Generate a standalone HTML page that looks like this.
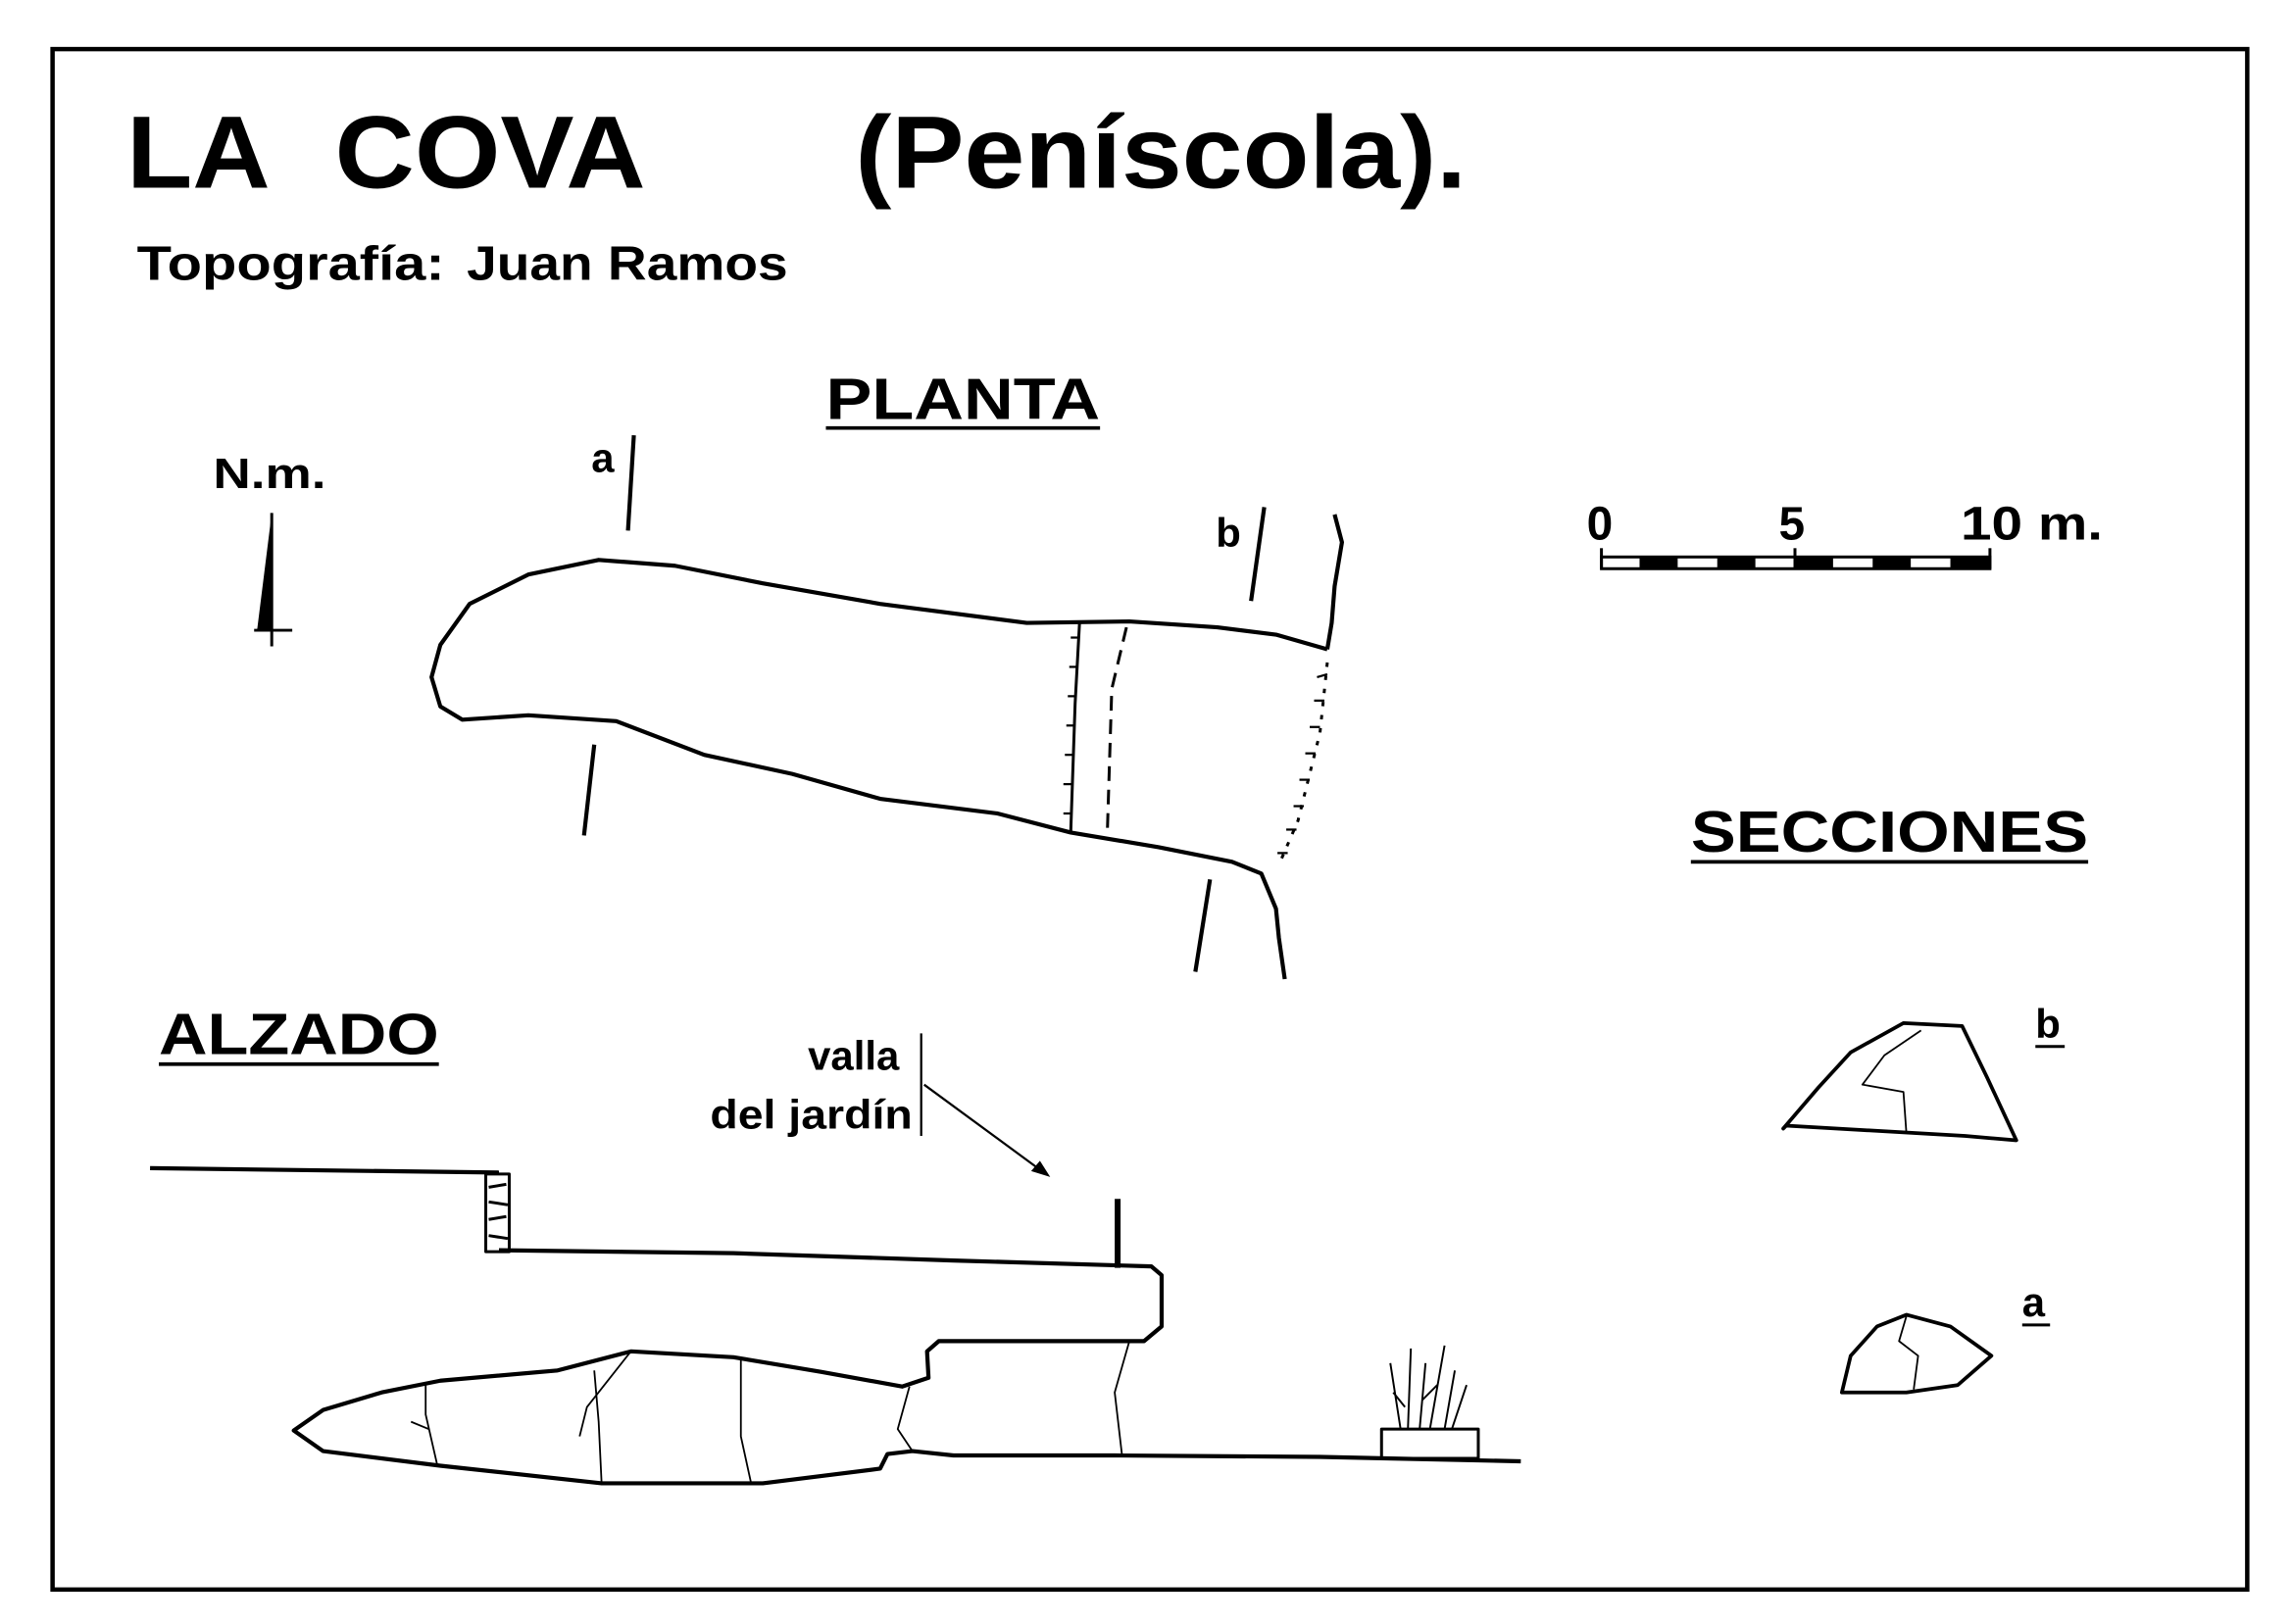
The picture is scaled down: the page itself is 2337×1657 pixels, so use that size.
<!DOCTYPE html>
<html><head><meta charset="utf-8"><style>
html,body{margin:0;padding:0;background:#fff}
svg{display:block}
text{font-family:"Liberation Sans",sans-serif;font-weight:bold;fill:#000}
</style></head><body>
<svg width="2337" height="1657" viewBox="0 0 1562 1108" xmlns="http://www.w3.org/2000/svg">
<rect x="0" y="0" width="1562" height="1108" fill="#fff"/>
<rect x="35.5" y="33.5" width="1497" height="1051" fill="none" stroke="#000" stroke-width="3"/>
<text x="86" y="128" font-size="70" textLength="98" lengthAdjust="spacingAndGlyphs">LA</text>
<text x="228" y="128" font-size="70" textLength="212" lengthAdjust="spacingAndGlyphs">COVA</text>
<text x="583" y="128" font-size="70" textLength="417" lengthAdjust="spacingAndGlyphs">(Peníscola).</text>
<text x="93" y="191" font-size="33" textLength="210" lengthAdjust="spacingAndGlyphs">Topografía:</text>
<text x="318" y="191" font-size="33" textLength="219" lengthAdjust="spacingAndGlyphs">Juan Ramos</text>
<text x="563" y="286" font-size="40" textLength="187" lengthAdjust="spacingAndGlyphs">PLANTA</text>
<line x1="563" y1="292" x2="750" y2="292" stroke="#000" stroke-width="2.5"/>
<text x="145" y="333" font-size="29" textLength="77" lengthAdjust="spacingAndGlyphs">N.m.</text>
<polygon points="185,350 175,430 185,430" fill="#000"/>
<line x1="185" y1="350" x2="185" y2="441" stroke="#000" stroke-width="2"/>
<line x1="173" y1="430" x2="199" y2="430" stroke="#000" stroke-width="2"/>
<text x="1082" y="368" font-size="32">0</text>
<text x="1213" y="368" font-size="32">5</text>
<text x="1337" y="368" font-size="32" textLength="97" lengthAdjust="spacingAndGlyphs">10 m.</text>
<rect x="1092" y="380" width="265" height="8" fill="#fff" stroke="#000" stroke-width="2"/>
<g fill="#000"><rect x="1118" y="380" width="26" height="8"/><rect x="1171" y="380" width="26" height="8"/><rect x="1224" y="380" width="26" height="8"/><rect x="1277" y="380" width="26" height="8"/><rect x="1330" y="380" width="27" height="8"/></g>
<line x1="1092" y1="374" x2="1092" y2="388" stroke="#000" stroke-width="2"/>
<line x1="1224" y1="374" x2="1224" y2="388" stroke="#000" stroke-width="2"/>
<line x1="1357" y1="374" x2="1357" y2="388" stroke="#000" stroke-width="2"/>
<g fill="none" stroke="#000" stroke-width="2.8" stroke-linejoin="round">
<path d="M905,443 L870,433 L830,428 L770,424 L700,425 L600,412 L520,398 L460,386 L408,382 L360,392 L320,412 L300,440 L294,462 L300,482 L315,491 L360,488 L420,492 L480,515 L540,528 L600,545 L680,555 L730,568 L790,578 L840,588 L860,596 L870,620 L872,640 L876,668"/>
<path d="M910,351 L915,370 L910,400 L908,425 L905,443"/>
<line x1="432" y1="297" x2="428" y2="362"/>
<line x1="405" y1="508" x2="398" y2="570"/>
<line x1="862" y1="346" x2="853" y2="410"/>
<line x1="825" y1="600" x2="815" y2="663"/>
<path d="M736,425 L733,480 L730,568" stroke-width="2"/>
<path d="M768,428 L758,470 L755,567" stroke-dasharray="10,6" stroke-width="2"/>
<path d="M905,452 L900,500 L885,560 L872,590" stroke-dasharray="3,6" stroke-width="2"/>
</g>
<g stroke="#000" stroke-width="1.5">
<line x1="736" y1="435" x2="730" y2="435"/><line x1="735" y1="455" x2="729" y2="455"/><line x1="734" y1="475" x2="728" y2="475"/><line x1="733" y1="495" x2="727" y2="495"/><line x1="732" y1="515" x2="726" y2="515"/><line x1="731" y1="535" x2="725" y2="535"/><line x1="731" y1="555" x2="725" y2="555"/>
<line x1="905" y1="460" x2="898" y2="462"/><line x1="903" y1="478" x2="896" y2="478"/><line x1="900" y1="496" x2="893" y2="496"/><line x1="897" y1="514" x2="890" y2="514"/><line x1="893" y1="532" x2="886" y2="532"/><line x1="889" y1="550" x2="882" y2="550"/><line x1="884" y1="566" x2="877" y2="566"/><line x1="878" y1="582" x2="871" y2="582"/>
</g>
<text x="403" y="322" font-size="28">a</text>
<text x="829" y="373" font-size="28">b</text>
<text x="1153" y="581" font-size="40" textLength="271" lengthAdjust="spacingAndGlyphs">SECCIONES</text>
<line x1="1153" y1="588" x2="1424" y2="588" stroke="#000" stroke-width="2.5"/>
<g fill="none" stroke="#000" stroke-width="2.5" stroke-linejoin="round">
<path d="M1216,770 L1240,742 L1262,718 L1298,698 L1338,700 L1355,735 L1375,778 L1340,775 L1218,768 Z"/>
<path d="M1310,703 L1285,720 L1270,740 L1298,745 L1300,773" stroke-width="1.2"/>
<path d="M1256,950 L1262,925 L1280,905 L1300,897 L1330,905 L1358,925 L1335,945 L1300,950 Z"/>
<path d="M1300,898 L1295,915 L1308,925 L1305,948" stroke-width="1.2"/>
</g>
<text x="1388" y="708" font-size="28">b</text>
<line x1="1388" y1="714" x2="1408" y2="714" stroke="#000" stroke-width="2"/>
<text x="1379" y="898" font-size="28">a</text>
<line x1="1379" y1="904" x2="1398" y2="904" stroke="#000" stroke-width="2"/>
<text x="108" y="719" font-size="40" textLength="191" lengthAdjust="spacingAndGlyphs">ALZADO</text>
<line x1="108" y1="726" x2="299" y2="726" stroke="#000" stroke-width="2.5"/>
<text x="613" y="730" font-size="28" text-anchor="end">valla</text>
<text x="622" y="770" font-size="28" text-anchor="end" textLength="138" lengthAdjust="spacingAndGlyphs">del jardín</text>
<line x1="628" y1="705" x2="628" y2="775" stroke="#000" stroke-width="1.5"/>
<line x1="630" y1="740" x2="713" y2="801" stroke="#000" stroke-width="1.5"/>
<polygon points="716,803 703,799 709,792" fill="#000"/>
<g fill="none" stroke="#000" stroke-width="2.8" stroke-linejoin="round">
<path d="M102,797 L340,800"/>
<path d="M340,853 L500,855 L650,860 L785,864 L792,870 L792,905 L780,915 L640,915 L632,922 L633,940 L615,946 L560,936 L500,926 L430,922 L380,935 L300,942 L260,950 L220,962 L200,976 L220,990 L300,1000 L410,1012 L520,1012 L600,1002 L605,992 L622,990 L650,993 L760,993 L900,994 L1037,997"/>
<rect x="331" y="801" width="16" height="53" stroke-width="2"/>
<path d="M333,810 L345,808 M333,820 L346,822 M333,832 L345,830 M333,843 L346,845" stroke-width="2"/>
<path d="M290,945 L290,965 L298,1000 M405,935 L408,970 L410,1012 M505,926 L505,980 L512,1012 M620,946 L612,975 L622,990 M770,915 L760,950 L765,993" stroke-width="1.2"/>
<path d="M430,922 L400,960 L395,980 M280,970 L292,975" stroke-width="1.2"/>
<rect x="942" y="975" width="66" height="20" stroke-width="2"/>
<path d="M955,975 L948,930 M960,975 L962,920 M968,975 L972,930 M975,975 L985,918 M985,975 L992,935 M990,975 L1000,945 M958,960 L950,950 M970,955 L980,945" stroke-width="1.3"/>
</g>
<line x1="762" y1="818" x2="762" y2="865" stroke="#000" stroke-width="4"/>
</svg>
</body></html>
